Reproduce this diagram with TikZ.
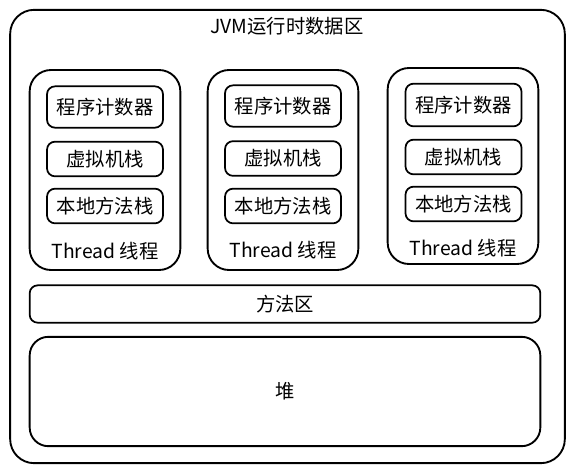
\documentclass[tikz,border=0pt]{standalone}
\usepackage{fontspec}
\setmainfont{Noto Sans CJK SC}
\usepackage{tikz}

\tikzset{
  jvmbox/.style={draw, line width=1.4pt, rounded corners=18pt, inner sep=0pt},
  threadbox/.style={draw, line width=1.4pt, rounded corners=16pt, minimum width=113pt, minimum height=150pt, inner sep=0pt},
  partbox/.style={draw, line width=1.3pt, rounded corners=6pt, minimum width=87pt, inner sep=0pt},
  lbl/.style={font=\fontsize{14.5}{16}\selectfont, inner sep=0pt}
}

\begin{document}
\begin{tikzpicture}[x=0.75pt, y=-0.75pt]
\useasboundingbox (0,0) rectangle (575,472);
\node[jvmbox, minimum width=416pt, minimum height=340pt] (jvm) at (287.5,236.5) {};
\node[lbl] (jvmtitle) at (287,26) {JVM运行时数据区};

% thread 1
\node[threadbox] (thread1) at (105,170) {};
\node[partbox, minimum height=31pt, lbl] (pc1) at (105,107) {程序计数器};
\node[partbox, minimum height=26pt, lbl] (vm1) at (105,159) {虚拟机栈};
\node[partbox, minimum height=26pt, lbl] (nm1) at (105,206) {本地方法栈};
\node[lbl] (name1) at (105,251) {Thread 线程};

% thread 2
\node[threadbox] (thread2) at (283,170) {};
\node[partbox, minimum height=31pt, lbl] (pc2) at (283,106) {程序计数器};
\node[partbox, minimum height=26pt, lbl] (vm2) at (283,158.5) {虚拟机栈};
\node[partbox, minimum height=26pt, lbl] (nm2) at (283,206) {本地方法栈};
\node[lbl] (name2) at (283,250) {Thread 线程};

% thread 3
\node[threadbox, minimum height=147pt] (thread3) at (463,166) {};
\node[partbox, minimum height=32pt, lbl] (pc3) at (463.5,105) {程序计数器};
\node[partbox, minimum height=26pt, lbl] (vm3) at (463.5,157) {虚拟机栈};
\node[partbox, minimum height=26pt, lbl] (nm3) at (463.5,204) {本地方法栈};
\node[lbl] (name3) at (463,248) {Thread 线程};

\node[partbox, minimum width=383pt, minimum height=28pt, lbl] (method) at (285,304) {方法区};
\node[jvmbox, rounded corners=14pt, minimum width=383pt, minimum height=82pt, lbl] (heap) at (285,391.5) {堆};
\end{tikzpicture}
\end{document}
